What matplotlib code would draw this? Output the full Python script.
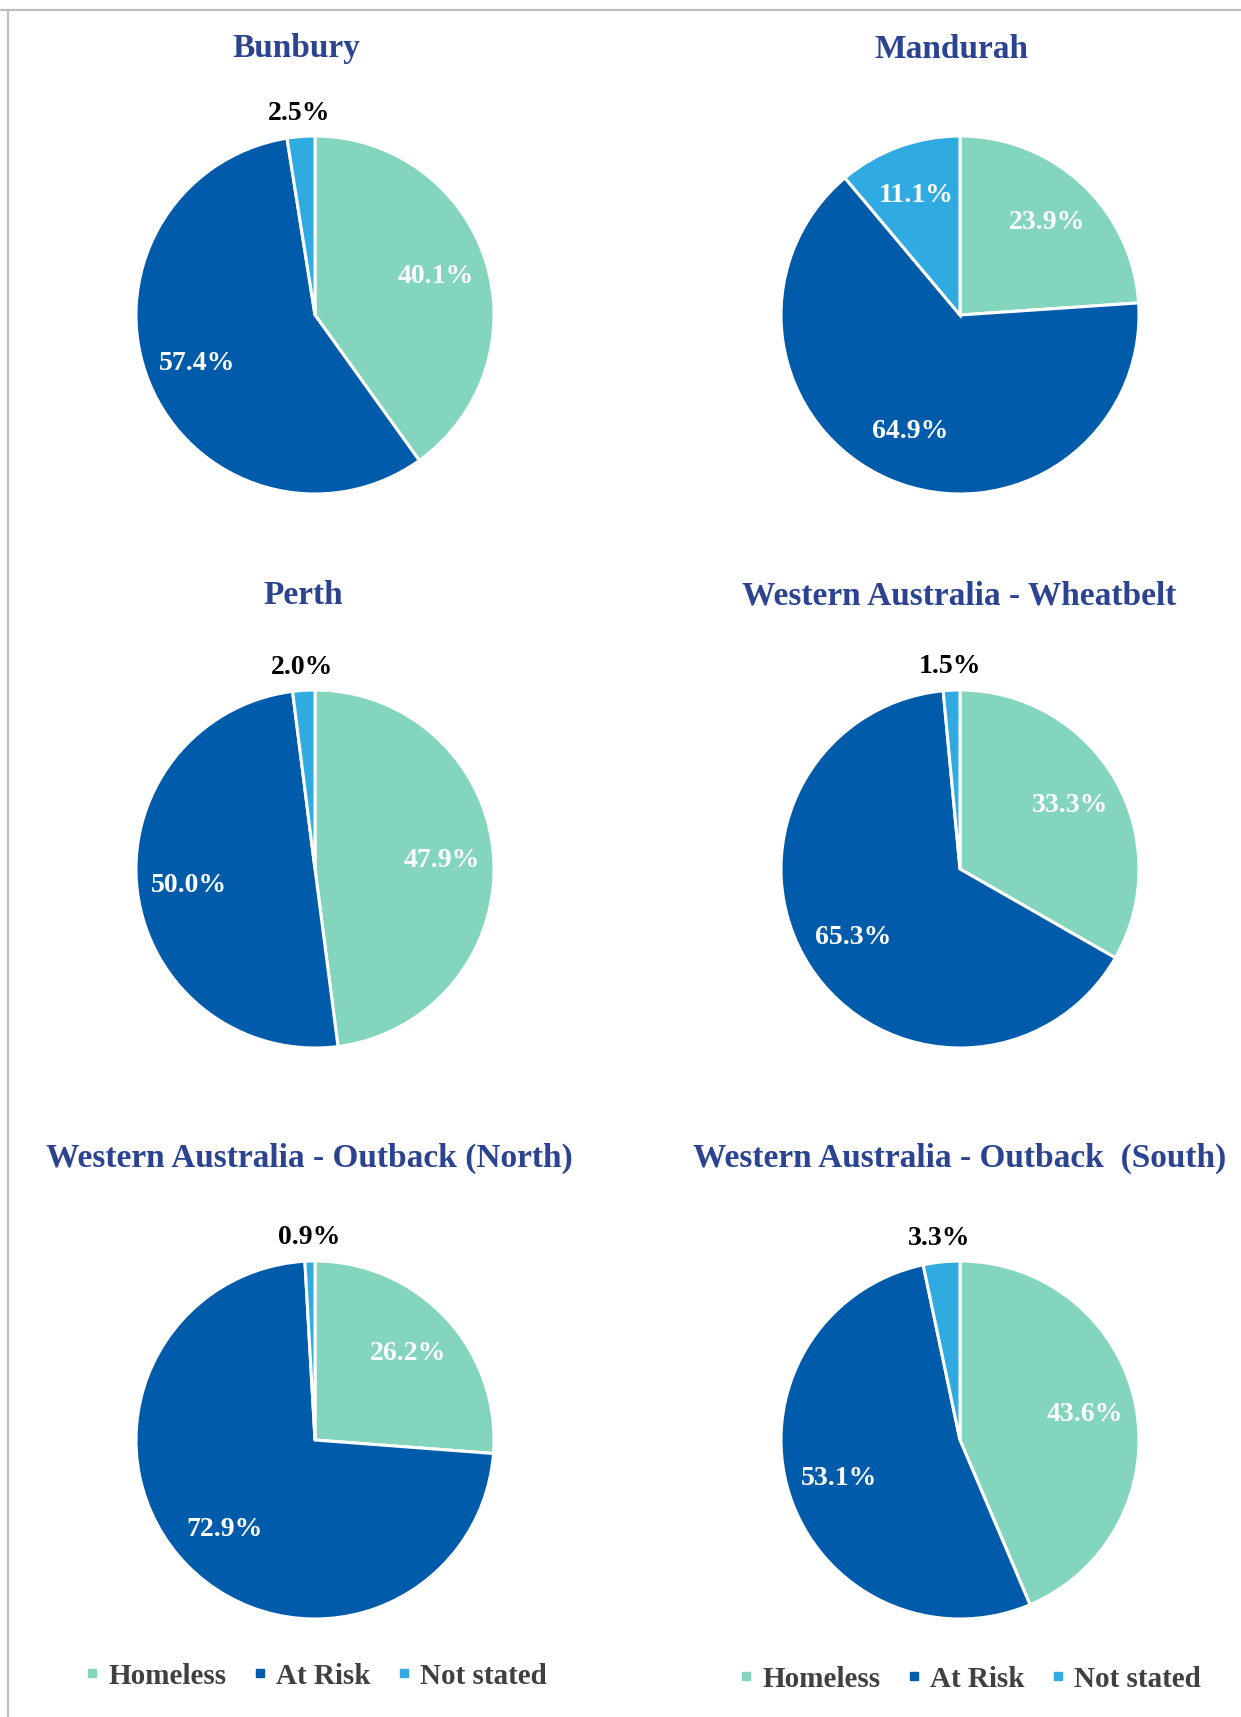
import matplotlib
matplotlib.use("Agg")
import matplotlib.pyplot as plt
from matplotlib.lines import Line2D
import numpy as np

plt.rcParams["font.family"] = ["Liberation Serif", "DejaVu Serif"]
plt.rcParams["font.weight"] = "bold"

categories = ["Homeless", "At Risk", "Not stated"]
colors = ["#83D5BE", "#005BAA", "#2FABE2"]

regions = [
    "Bunbury",
    "Mandurah",
    "Perth",
    "Western Australia - Wheatbelt",
    "Western Australia - Outback (North)",
    "Western Australia - Outback  (South)",
]
homeless = [40.1, 23.9, 47.9, 33.3, 26.2, 43.6]
at_risk = [57.4, 64.9, 50.0, 65.3, 72.9, 53.1]
not_stated = [2.5, 11.1, 2.0, 1.5, 0.9, 3.3]

W, H = 1241, 1717
R = 179
# pie centres and title positions in pixels
centres = [(315, 315), (960, 315), (315, 869), (960, 869), (315, 1440), (960, 1440)]
titles_xy = [(296, 49), (951, 49), (303, 596), (959, 596), (309, 1158), (960, 1158)]
legend_xy = [(316, 1676), (970, 1679)]

TITLE_COLOR = "#2B4391"


def main():
    fig = plt.figure(figsize=(W / 100, H / 100), dpi=100)

    # light grey frame at top and left
    fig.add_artist(Line2D([0, 1], [1 - 10 / H, 1 - 10 / H], color="#C0C0C0", lw=1.6))
    fig.add_artist(Line2D([8 / W, 8 / W], [0, 1 - 10 / H], color="#C0C0C0", lw=1.6))

    for i, name in enumerate(regions):
        cx, cy = centres[i]
        ax = fig.add_axes([(cx - R) / W, 1 - (cy + R) / H, 2 * R / W, 2 * R / H])
        vals = [homeless[i], at_risk[i], not_stated[i]]
        labels = [f"{v:.1f}%" for v in vals]
        wedges, texts = ax.pie(
            vals, colors=colors, startangle=90, counterclock=False,
            labels=labels, labeldistance=0.71, normalize=True,
            wedgeprops=dict(edgecolor="white", linewidth=2.2),
            textprops=dict(fontsize=20, fontweight="bold", color="white"),
        )
        for w, t, v in zip(wedges, texts, vals):
            t.set_ha("center")
            t.set_va("center")
            if v < 5:
                ang = np.deg2rad((w.theta1 + w.theta2) / 2)
                t.set_position((1.13 * np.cos(ang), 1.13 * np.sin(ang)))
                t.set_color("black")
        ax.set_xlim(-1, 1)
        ax.set_ylim(-1, 1)
        ax.axis("off")

        tx, ty = titles_xy[i]
        fig.text(tx / W, 1 - ty / H, name, ha="center", va="center",
                 fontsize=24, fontweight="bold", color=TITLE_COLOR)

    handles = [Line2D([], [], marker="s", ls="none", markersize=6,
                      markerfacecolor=c, markeredgecolor=c) for c in colors]
    for lx, ly in legend_xy:
        leg = fig.legend(handles, categories, loc="center",
                         bbox_to_anchor=(lx / W, 1 - ly / H), ncol=3,
                         frameon=False, fontsize=21, handlelength=0.5,
                         handletextpad=0.3, columnspacing=0.9)
        for t in leg.get_texts():
            t.set_color("#404040")

    fig.savefig("out.png", dpi=100, facecolor="white")


if __name__ == "__main__":
    main()
